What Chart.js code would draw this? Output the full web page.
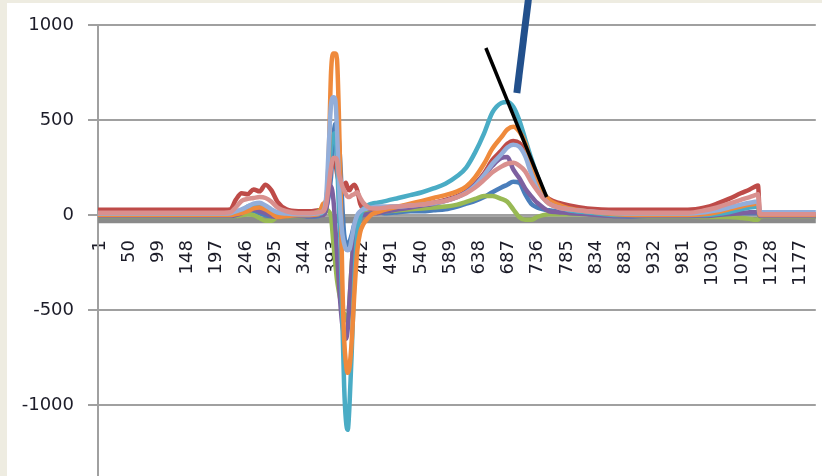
<!DOCTYPE html>
<html>
<head>
<meta charset="utf-8">
<script src="https://cdn.jsdelivr.net/npm/chart.js@4"></script>
<style>
  html, body { margin: 0; padding: 0; overflow: hidden; background: #eeece1; }
  #chart { display: block; }
</style>
</head>
<body>
<canvas id="chart" width="822" height="525"></canvas>
<script>
// sample positions (row numbers) shared by every series
const xs = [-2, 96, 195, 220, 229, 239, 249, 259, 269, 279, 289, 299, 314, 334, 353, 368,
  376, 381, 385, 389, 393, 396, 399, 402, 405, 408, 411, 414, 417, 420, 424, 428, 433, 438, 443, 450, 458,
  467, 482, 502, 522, 542, 561, 581, 601, 616, 631, 646, 660, 675, 685, 695, 705, 715, 725, 735, 745, 755, 770, 789,
  819, 869, 938, 988, 1017, 1037, 1057, 1077, 1092, 1101, 1106, 1109, 1116, 1203];

const blueVals = [-8, -8, -8, -8, -5, 5, 15, 20, 10, 0, -8, -8, -8, -8, -8, -5,
  10, 40, 100, 200, 400, 480, 470, 400, 250, 50, -100, -150, -160, -140, -100, -50, -20, 0, 5, 10, 10,
  15, 10, 15, 20, 20, 25, 30, 45, 60, 75, 95, 120, 145, 160, 175, 170, 110, 60, 40, 30, 25, 20, 15,
  10, -5, -8, -8, -5, 0, 5, 10, 10, 10, 10, -5, -5, -5];
const redVals = [28, 28, 28, 30, 80, 115, 110, 135, 125, 160, 130, 70, 30, 20, 20, 25,
  30, 60, 150, 250, 300, 280, 220, 180, 170, 160, 150, 170, 140, 130, 150, 160, 130, 60, 35, 30, 30,
  30, 40, 45, 50, 55, 65, 80, 100, 125, 165, 220, 290, 340, 375, 390, 380, 330, 240, 160, 110, 85, 65, 50,
  35, 28, 28, 28, 40, 60, 85, 115, 135, 150, 155, 5, 5, 5];
const greenVals = [-8, -8, -8, -8, -5, 0, 5, 0, -15, -30, -30, -10, -8, -8, 0, 20,
  40, 30, 20, -10, -150, -250, -340, -400, -450, -500, -520, -545, -560, -450, -250, -100, -30, -5, 5, 10, 10,
  15, 20, 25, 30, 35, 40, 45, 55, 70, 85, 100, 100, 85, 70, 30, -10, -25, -25, -10, 0, 5, 5, 5,
  5, 0, -8, -8, -10, -10, -10, -15, -20, -25, -25, -10, -8, -8];
const purpleVals = [-5, -5, -5, -5, 0, 10, 30, 30, 20, 10, -5, -10, -5, -5, -5, 0,
  0, 30, 120, 150, 80, -50, -200, -350, -480, -580, -630, -650, -600, -450, -250, -100, -30, -5, 0, 5, 10,
  10, 20, 30, 40, 50, 60, 75, 95, 120, 160, 210, 260, 300, 305, 240, 195, 140, 100, 65, 40, 20, 15, 10,
  5, -5, -5, -5, -5, 0, 5, 10, 15, 15, 15, -5, -5, -5];
const tealVals = [0, 0, 0, 0, 10, 20, 45, 55, 50, 40, 20, 5, 0, 0, 0, 5,
  20, 80, 200, 350, 420, 430, 300, 50, -150, -550, -900, -1080, -1130, -1000, -700, -350, -100, -10, 30, 50, 60,
  65, 75, 90, 105, 120, 140, 165, 205, 250, 330, 430, 540, 590, 595, 570, 500, 400, 300, 210, 130, 75, 45, 25,
  15, 0, 0, 0, 0, 5, 15, 30, 40, 42, 42, 0, 0, 0];
const orangeVals = [0, 0, 0, 0, 5, 10, 20, 35, 40, 30, 10, -10, -5, 0, 0, 5,
  60, 80, 300, 750, 850, 850, 820, 550, 150, -350, -650, -780, -830, -800, -650, -420, -190, -90, -50, -20, 5,
  15, 30, 45, 60, 75, 90, 105, 125, 150, 200, 270, 350, 410, 450, 465, 440, 380, 270, 180, 120, 80, 55, 35,
  20, 5, 0, 0, 5, 15, 30, 45, 55, 60, 62, 0, 0, 0];
const lightBlueVals = [8, 8, 8, 10, 20, 30, 45, 60, 65, 50, 30, 15, 8, 5, 5, 10,
  20, 100, 350, 580, 620, 610, 450, 200, 0, -100, -150, -180, -185, -180, -120, -50, 0, 20, 30, 35, 40,
  45, 45, 45, 50, 55, 62, 75, 95, 118, 155, 210, 270, 320, 355, 370, 360, 310, 220, 140, 90, 60, 40, 30,
  20, 10, 8, 8, 15, 25, 40, 55, 65, 70, 72, 15, 15, 15];
const pinkVals = [12, 12, 12, 15, 40, 75, 85, 90, 95, 90, 70, 40, 20, 10, 10, 15,
  20, 60, 150, 250, 300, 300, 290, 220, 185, 150, 130, 110, 95, 95, 105, 110, 120, 90, 65, 45, 35,
  35, 40, 45, 50, 55, 65, 75, 95, 115, 145, 185, 225, 255, 270, 275, 260, 230, 175, 130, 90, 60, 40, 30,
  20, 12, 12, 12, 25, 40, 60, 80, 95, 105, 110, 5, 5, 5];

// grey baseline band just under zero
const baseX = [-2, 1203];
const baseVals = [-25, -25];

const xTicks = [1, 50, 99, 148, 197, 246, 295, 344, 393, 442, 491, 540, 589, 638, 687, 736, 785,
  834, 883, 932, 981, 1030, 1079, 1128, 1177];
const yTicks = [-1000, -500, 0, 500, 1000];

// hand-drawn marker strokes, in data units
const blackStroke = { x: [649, 751], y: [879, 95] };
const blueStroke = { x: [721, 701], y: [1150, 642] };

const series = [
  { vals: blueVals, color: "#4a7ebb" },
  { vals: redVals, color: "#be4b48" },
  { vals: greenVals, color: "#98b954" },
  { vals: purpleVals, color: "#7d60a0" },
  { vals: tealVals, color: "#4aacc5" },
  { vals: orangeVals, color: "#ef8a3c" },
  { vals: lightBlueVals, color: "#93aeda" },
  { vals: pinkVals, color: "#d9908e" },
];

const datasets = series.map((s, i) => ({
  data: xs.map((x, j) => ({ x: x, y: s.vals[j] })),
  borderColor: s.color,
  order: 100 - i,
}));
datasets.push({
  data: baseX.map((x, j) => ({ x: x, y: baseVals[j] })),
  borderColor: "#8a8a8a",
  borderWidth: 7,
  order: 1000,
});

const font = { family: "DejaVu Sans", size: 18 };
const textColor = "#1c1c28";

const backdrop = {
  id: "backdrop",
  beforeDraw(c) {
    const ctx = c.ctx;
    ctx.save();
    ctx.fillStyle = "#eeece1";
    ctx.fillRect(0, 0, c.width, c.height);
    ctx.fillStyle = "#ffffff";
    ctx.fillRect(7, 3, c.width - 7, c.height - 3);
    ctx.restore();
  }
};

function stroke(c, s, color, width) {
  const ctx = c.ctx, x = c.scales.x, y = c.scales.y;
  ctx.save();
  ctx.strokeStyle = color;
  ctx.lineWidth = width;
  ctx.beginPath();
  ctx.moveTo(x.getPixelForValue(s.x[0]), y.getPixelForValue(s.y[0]));
  ctx.lineTo(x.getPixelForValue(s.x[1]), y.getPixelForValue(s.y[1]));
  ctx.stroke();
  ctx.restore();
}

const markers = {
  id: "markers",
  afterDatasetsDraw(c) {
    stroke(c, blackStroke, "#000000", 3.5);
    stroke(c, blueStroke, "#22508c", 7);
  }
};

const ctx = document.getElementById("chart").getContext("2d");
const chart = new Chart(ctx, {
  type: "line",
  data: { datasets: datasets },
  options: {
    responsive: false,
    animation: false,
    layout: { padding: { top: 25, right: 4, bottom: 0, left: 0 } },
    plugins: { legend: { display: false }, tooltip: { enabled: false } },
    elements: {
      point: { radius: 0 },
      line: { borderWidth: 4.5, cubicInterpolationMode: "monotone", borderCapStyle: "round", borderJoinStyle: "round" }
    },
    scales: {
      x: {
        type: "linear",
        min: -2.3,
        max: 1203,
        position: { y: 0 },
        afterBuildTicks: s => { s.ticks = xTicks.map(v => ({ value: v })); },
        grid: { display: false, drawTicks: true, tickLength: 25 },
        border: { display: false },
        ticks: {
          autoSkip: false, maxRotation: 90, minRotation: 90, padding: 0,
          color: textColor, font: font, callback: v => String(v)
        }
      },
      y: {
        type: "linear",
        min: -1500,
        max: 1000,
        afterBuildTicks: s => { s.ticks = yTicks.map(v => ({ value: v })); },
        afterFit: s => { s.width = 98; },
        grid: { color: "#a0a0a0", lineWidth: 2, tickLength: 10 },
        border: { color: "#a0a0a0", width: 2 },
        ticks: { padding: 14, color: textColor, font: font, callback: v => String(v) }
      }
    }
  },
  plugins: [backdrop, markers]
});
</script>
</body>
</html>
